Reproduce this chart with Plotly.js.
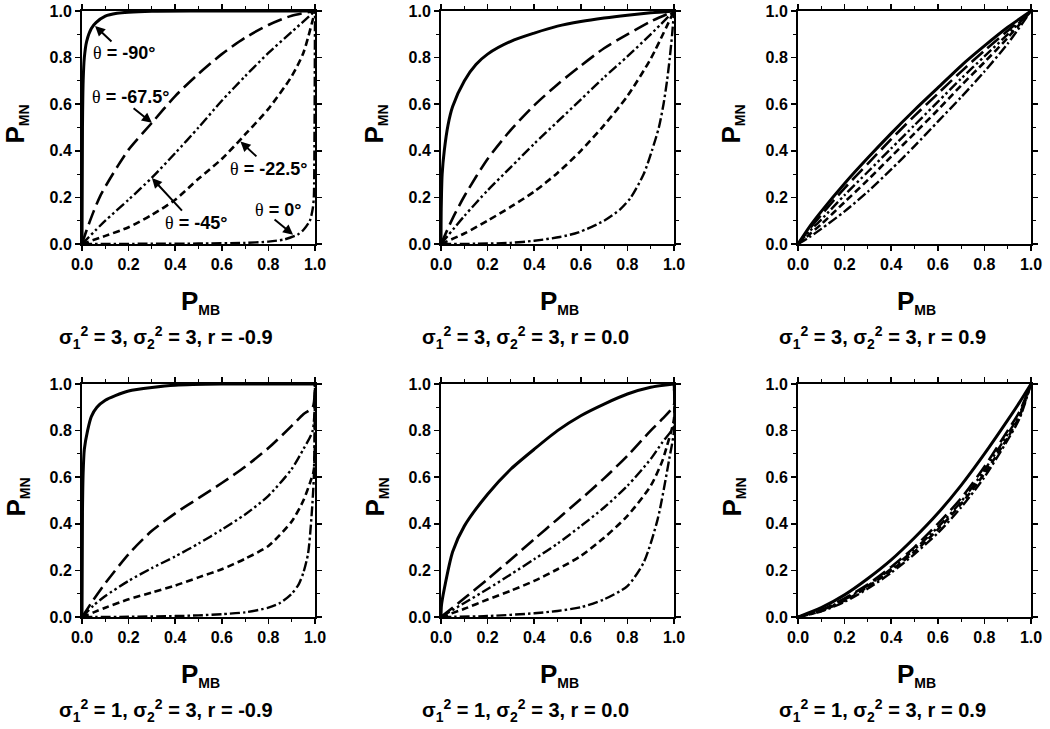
<!DOCTYPE html>
<html><head><meta charset="utf-8">
<script src="https://cdn.plot.ly/plotly-3.0.1.min.js"></script>
<style>html,body{margin:0;padding:0;background:#fff}#chart{width:1050px;height:729px}</style>
</head><body><div id="chart"></div>
<script>
// ---------- Panel A: sigma1^2=3, sigma2^2=3, r=-0.9 ----------
var a_solid_x = [0, 0.002, 0.005, 0.01, 0.02, 0.04, 0.06, 0.1, 0.15, 0.2, 0.3, 0.5, 0.7, 1.0];
var a_solid_y = [0, 0.5, 0.7, 0.8, 0.87, 0.925, 0.95, 0.978, 0.99, 0.995, 0.999, 1, 1, 1];
var a_long_x = [0, 0.02, 0.05, 0.08, 0.12, 0.16, 0.2, 0.3, 0.4, 0.5, 0.6, 0.7, 0.8, 0.9, 1];
var a_long_y = [0, 0.06, 0.14, 0.21, 0.28, 0.345, 0.405, 0.52, 0.635, 0.73, 0.815, 0.885, 0.94, 0.98, 1];
var a_ddd_x = [0, 0.1, 0.2, 0.3, 0.4, 0.5, 0.6, 0.7, 0.8, 0.9, 1];
var a_ddd_y = [0, 0.1, 0.19, 0.285, 0.39, 0.5, 0.615, 0.72, 0.82, 0.91, 1];
var a_short_x = [0, 0.1, 0.2, 0.3, 0.4, 0.5, 0.6, 0.7, 0.8, 0.9, 0.95, 1];
var a_short_y = [0, 0.035, 0.072, 0.125, 0.19, 0.28, 0.365, 0.47, 0.58, 0.72, 0.82, 1];
var a_dd_x = [0, 0.3, 0.5, 0.7, 0.8, 0.87, 0.925, 0.95, 0.978, 0.99, 0.995, 0.998, 1];
var a_dd_y = [0, 0.001, 0.002, 0.005, 0.01, 0.02, 0.04, 0.06, 0.1, 0.15, 0.2, 0.5, 1];

// ---------- Panel B: sigma1^2=3, sigma2^2=3, r=0.0 ----------
var b_solid_x = [0, 0.001, 0.005, 0.014, 0.03, 0.05, 0.1, 0.15, 0.2, 0.3, 0.4, 0.5, 0.6, 0.7, 0.8, 0.9, 1];
var b_solid_y = [0, 0.15, 0.3, 0.4, 0.51, 0.59, 0.7, 0.77, 0.815, 0.87, 0.905, 0.935, 0.955, 0.97, 0.982, 0.992, 1];
var b_long_x = [0, 0.05, 0.1, 0.2, 0.3, 0.4, 0.5, 0.6, 0.7, 0.8, 0.9, 1];
var b_long_y = [0, 0.11, 0.205, 0.365, 0.49, 0.595, 0.685, 0.765, 0.84, 0.9, 0.955, 1];
var b_ddd_x = [0, 0.1, 0.2, 0.3, 0.4, 0.5, 0.6, 0.7, 0.8, 0.9, 1];
var b_ddd_y = [0, 0.12, 0.23, 0.33, 0.43, 0.525, 0.62, 0.715, 0.805, 0.9, 1];
var b_short_x = [0, 0.1, 0.2, 0.3, 0.4, 0.5, 0.6, 0.7, 0.8, 0.9, 1];
var b_short_y = [0, 0.045, 0.1, 0.16, 0.225, 0.305, 0.4, 0.51, 0.635, 0.795, 1];
var b_dd_x = [0, 0.15, 0.3, 0.4, 0.51, 0.59, 0.7, 0.77, 0.815, 0.87, 0.905, 0.935, 0.955, 0.97, 0.982, 0.992, 1];
var b_dd_y = [0, 0.001, 0.005, 0.014, 0.03, 0.05, 0.1, 0.15, 0.2, 0.3, 0.4, 0.5, 0.6, 0.7, 0.8, 0.9, 1];

// ---------- Panel C: sigma1^2=3, sigma2^2=3, r=0.9 ----------
var c_x = [0, 0.05, 0.1, 0.2, 0.3, 0.4, 0.5, 0.6, 0.7, 0.8, 0.9, 1];
var c_solid_y = [0, 0.075, 0.14, 0.26, 0.37, 0.475, 0.575, 0.67, 0.765, 0.85, 0.93, 1];
var c_long_y = [0, 0.065, 0.125, 0.24, 0.345, 0.45, 0.55, 0.645, 0.74, 0.83, 0.915, 1];
var c_ddd_y = [0, 0.055, 0.105, 0.21, 0.31, 0.41, 0.51, 0.61, 0.71, 0.805, 0.9, 1];
var c_short_y = [0, 0.042, 0.085, 0.18, 0.275, 0.375, 0.475, 0.575, 0.68, 0.78, 0.885, 1];
var c_dd_y = [0, 0.03, 0.065, 0.14, 0.225, 0.32, 0.42, 0.525, 0.63, 0.74, 0.86, 1];

// ---------- Panel D: sigma1^2=1, sigma2^2=3, r=-0.9 ----------
var d_solid_x = [0, 0.002, 0.005, 0.01, 0.024, 0.04, 0.064, 0.1, 0.143, 0.2, 0.3, 0.4, 0.6, 1];
var d_solid_y = [0, 0.45, 0.62, 0.72, 0.8, 0.86, 0.9, 0.93, 0.95, 0.97, 0.985, 0.995, 1, 1];
var d_long_x = [0, 0.05, 0.1, 0.2, 0.3, 0.4, 0.5, 0.6, 0.7, 0.8, 0.9, 0.95, 0.99, 1];
var d_long_y = [0, 0.075, 0.145, 0.27, 0.37, 0.445, 0.51, 0.575, 0.645, 0.725, 0.82, 0.87, 0.9, 1];
var d_ddd_x = [0, 0.05, 0.1, 0.2, 0.3, 0.4, 0.5, 0.6, 0.7, 0.8, 0.9, 0.95, 0.99, 1];
var d_ddd_y = [0, 0.05, 0.09, 0.155, 0.21, 0.26, 0.315, 0.375, 0.44, 0.52, 0.635, 0.72, 0.8, 1];
var d_short_x = [0, 0.05, 0.1, 0.2, 0.3, 0.4, 0.5, 0.6, 0.7, 0.8, 0.9, 0.95, 0.98, 0.995, 1];
var d_short_y = [0, 0.02, 0.04, 0.076, 0.105, 0.135, 0.17, 0.205, 0.25, 0.305, 0.41, 0.5, 0.58, 0.63, 1];
var d_dd_x = [0, 0.2, 0.4, 0.5, 0.6, 0.7, 0.8, 0.85, 0.9, 0.93, 0.95, 0.97, 0.985, 0.995, 1];
var d_dd_y = [0, 0.001, 0.004, 0.007, 0.012, 0.02, 0.04, 0.06, 0.1, 0.14, 0.19, 0.27, 0.43, 0.6, 1];

// ---------- Panel E: sigma1^2=1, sigma2^2=3, r=0.0 ----------
var e_solid_x = [0, 0.002, 0.014, 0.05, 0.1, 0.2, 0.3, 0.4, 0.5, 0.6, 0.7, 0.8, 0.9, 1];
var e_solid_y = [0, 0.05, 0.12, 0.28, 0.39, 0.527, 0.635, 0.72, 0.8, 0.864, 0.914, 0.957, 0.986, 1];
var e_long_x = [0, 0.1, 0.2, 0.3, 0.4, 0.5, 0.6, 0.7, 0.8, 0.9, 0.95, 1, 1];
var e_long_y = [0, 0.08, 0.162, 0.247, 0.334, 0.42, 0.506, 0.595, 0.692, 0.8, 0.85, 0.91, 1];
var e_ddd_x = [0, 0.1, 0.2, 0.3, 0.4, 0.5, 0.6, 0.7, 0.8, 0.9, 0.95, 1, 1];
var e_ddd_y = [0, 0.06, 0.12, 0.183, 0.248, 0.315, 0.39, 0.47, 0.563, 0.678, 0.75, 0.82, 1];
var e_short_x = [0, 0.1, 0.2, 0.3, 0.4, 0.5, 0.6, 0.7, 0.8, 0.9, 0.95, 0.97, 1, 1];
var e_short_y = [0, 0.035, 0.075, 0.113, 0.155, 0.205, 0.262, 0.34, 0.434, 0.563, 0.67, 0.735, 0.85, 1];
var e_dd_x = [0, 0.2, 0.4, 0.5, 0.6, 0.7, 0.8, 0.87, 0.93, 0.98, 1, 1];
var e_dd_y = [0, 0.004, 0.016, 0.026, 0.042, 0.076, 0.133, 0.234, 0.42, 0.68, 0.8, 1];

// ---------- Panel F: sigma1^2=1, sigma2^2=3, r=0.9 ----------
var f_x = [0, 0.1, 0.2, 0.3, 0.4, 0.5, 0.6, 0.7, 0.8, 0.9, 0.95, 1];
var f_solid_y = [0, 0.04, 0.095, 0.165, 0.245, 0.34, 0.445, 0.565, 0.7, 0.845, 0.92, 1];
var f_long_y = [0, 0.03, 0.08, 0.14, 0.215, 0.3, 0.4, 0.51, 0.645, 0.8, 0.88, 1];
var f_ddd_y = [0, 0.028, 0.075, 0.135, 0.207, 0.29, 0.385, 0.495, 0.63, 0.785, 0.87, 1];
var f_short_y = [0, 0.026, 0.07, 0.13, 0.2, 0.28, 0.375, 0.485, 0.615, 0.77, 0.86, 1];
var f_dd_y = [0, 0.024, 0.065, 0.122, 0.19, 0.27, 0.36, 0.47, 0.6, 0.76, 0.85, 1];

// ---------- texts ----------
var tickValues = [0, 0.2, 0.4, 0.6, 0.8, 1.0];
var tickLabels = ['0.0', '0.2', '0.4', '0.6', '0.8', '1.0'];
var captions = [
  'σ<sub>1</sub><sup>2</sup> = 3, σ<sub>2</sub><sup>2</sup> = 3, r = -0.9',
  'σ<sub>1</sub><sup>2</sup> = 3, σ<sub>2</sub><sup>2</sup> = 3, r = 0.0',
  'σ<sub>1</sub><sup>2</sup> = 3, σ<sub>2</sub><sup>2</sup> = 3, r = 0.9',
  'σ<sub>1</sub><sup>2</sup> = 1, σ<sub>2</sub><sup>2</sup> = 3, r = -0.9',
  'σ<sub>1</sub><sup>2</sup> = 1, σ<sub>2</sub><sup>2</sup> = 3, r = 0.0',
  'σ<sub>1</sub><sup>2</sup> = 1, σ<sub>2</sub><sup>2</sup> = 3, r = 0.9'
];
var thetaLabels = ['θ = -90°', 'θ = -67.5°', 'θ = -45°', 'θ = -22.5°', 'θ = 0°'];
var thetaTextX = [0.18, 0.21, 0.49, 0.80, 0.84];
var thetaTextY = [0.82, 0.63, 0.09, 0.32, 0.146];
var arrowHeadX = [0.056, 0.30, 0.30, 0.68, 0.906];
var arrowHeadY = [0.936, 0.52, 0.283, 0.44, 0.04];
var arrowTailX = [0.133, 0.215, 0.435, 0.755, 0.82];
var arrowTailY = [0.863, 0.588, 0.137, 0.37, 0.11];

var styles = {
  solid: {dash: 'solid', width: 3},
  long: {dash: '15px,6px', width: 2.6},
  ddd: {dash: '10px,3px,2.5px,3px,2.5px,3px', width: 2.4},
  short: {dash: '7px,4px', width: 2.6},
  dd: {dash: '10px,3px,2.5px,3px', width: 2.4}
};

var panels = [
  [['solid', a_solid_x, a_solid_y], ['long', a_long_x, a_long_y], ['ddd', a_ddd_x, a_ddd_y], ['short', a_short_x, a_short_y], ['dd', a_dd_x, a_dd_y]],
  [['solid', b_solid_x, b_solid_y], ['long', b_long_x, b_long_y], ['ddd', b_ddd_x, b_ddd_y], ['short', b_short_x, b_short_y], ['dd', b_dd_x, b_dd_y]],
  [['solid', c_x, c_solid_y], ['long', c_x, c_long_y], ['ddd', c_x, c_ddd_y], ['short', c_x, c_short_y], ['dd', c_x, c_dd_y]],
  [['solid', d_solid_x, d_solid_y], ['long', d_long_x, d_long_y], ['ddd', d_ddd_x, d_ddd_y], ['short', d_short_x, d_short_y], ['dd', d_dd_x, d_dd_y]],
  [['solid', e_solid_x, e_solid_y], ['long', e_long_x, e_long_y], ['ddd', e_ddd_x, e_ddd_y], ['short', e_short_x, e_short_y], ['dd', e_dd_x, e_dd_y]],
  [['solid', f_x, f_solid_y], ['long', f_x, f_long_y], ['ddd', f_x, f_ddd_y], ['short', f_x, f_short_y], ['dd', f_x, f_dd_y]]
];

var W = 1050, H = 729;
var colLeft = [82, 441, 798];
var rowTop = [11, 384];
var PW = 233, PH = 233;
var FONT = 'Liberation Sans, Arial, sans-serif';

var traces = [];
var layout = {
  width: W, height: H,
  margin: {l: 0, r: 0, t: 0, b: 0},
  paper_bgcolor: '#fff', plot_bgcolor: '#fff',
  showlegend: false,
  annotations: []
};

panels.forEach(function (curves, i) {
  var n = i + 1;
  var xa = 'x' + (n === 1 ? '' : n), ya = 'y' + (n === 1 ? '' : n);
  curves.forEach(function (c) {
    traces.push({
      x: c[1], y: c[2], xaxis: xa, yaxis: ya, type: 'scatter', mode: 'lines',
      line: {color: '#000', dash: styles[c[0]].dash, width: styles[c[0]].width, shape: 'spline', smoothing: 0.7},
      hoverinfo: 'skip'
    });
  });
  var col = i % 3, row = Math.floor(i / 3);
  var L = colLeft[col], T = rowTop[row];
  var axCommon = {
    range: [0, 1], showline: true, linewidth: 2, linecolor: '#000', mirror: 'ticks',
    ticks: 'outside', ticklen: 5, tickwidth: 1.5, tickcolor: '#000',
    tickmode: 'array', tickvals: tickValues, ticktext: tickLabels,
    showgrid: false, zeroline: false,
    tickfont: {family: FONT, size: 16, color: '#000', weight: 'bold'},
    minor: {ticks: 'outside', ticklen: 3, tickwidth: 1, tickcolor: '#000', dtick: 0.1, tick0: 0, showgrid: false},
    fixedrange: true
  };
  var xk = 'xaxis' + (n === 1 ? '' : n), yk = 'yaxis' + (n === 1 ? '' : n);
  layout[xk] = Object.assign({}, axCommon, {domain: [L / W, (L + PW) / W], anchor: ya});
  layout[yk] = Object.assign({}, axCommon, {domain: [1 - (T + PH) / H, 1 - T / H], anchor: xa});

  var cx = L + PW / 2;
  layout.annotations.push({
    xref: 'paper', yref: 'paper', x: (L - 66) / W, y: 1 - (T + PH / 2 - 3) / H,
    text: '<b>P<sub><span style="font-size:14px">MN</span></sub></b>', textangle: -90, showarrow: false,
    xanchor: 'center', yanchor: 'middle', font: {family: FONT, size: 26, color: '#000'}
  });
  layout.annotations.push({
    xref: 'paper', yref: 'paper', x: (cx + 2) / W, y: 1 - (T + PH + 58) / H,
    text: '<b>P<sub><span style="font-size:14px">MB</span></sub></b>', showarrow: false,
    xanchor: 'center', yanchor: 'middle', font: {family: FONT, size: 26, color: '#000'}
  });
  layout.annotations.push({
    xref: 'paper', yref: 'paper', x: (cx - 32) / W, y: 1 - (T + PH + 93) / H,
    text: '<b>' + captions[i] + '</b>', showarrow: false,
    xanchor: 'center', yanchor: 'middle', font: {family: FONT, size: 20, color: '#000'}
  });
});

thetaLabels.forEach(function (t, k) {
  layout.annotations.push({
    xref: 'x', yref: 'y', x: thetaTextX[k], y: thetaTextY[k],
    text: t.replace('θ', '<span style="font-family:Liberation Serif">θ</span><b>').replace(/$/, '</b>'),
    showarrow: false, xanchor: 'center', yanchor: 'middle',
    font: {family: FONT, size: 18, color: '#000'}
  });
  layout.annotations.push({
    xref: 'x', yref: 'y', axref: 'x', ayref: 'y',
    x: arrowHeadX[k], y: arrowHeadY[k], ax: arrowTailX[k], ay: arrowTailY[k],
    text: '', showarrow: true, arrowhead: 2, arrowsize: 1, arrowwidth: 2, arrowcolor: '#000'
  });
});

Plotly.newPlot('chart', traces, layout, {staticPlot: true, displayModeBar: false});
</script>
</body></html>
